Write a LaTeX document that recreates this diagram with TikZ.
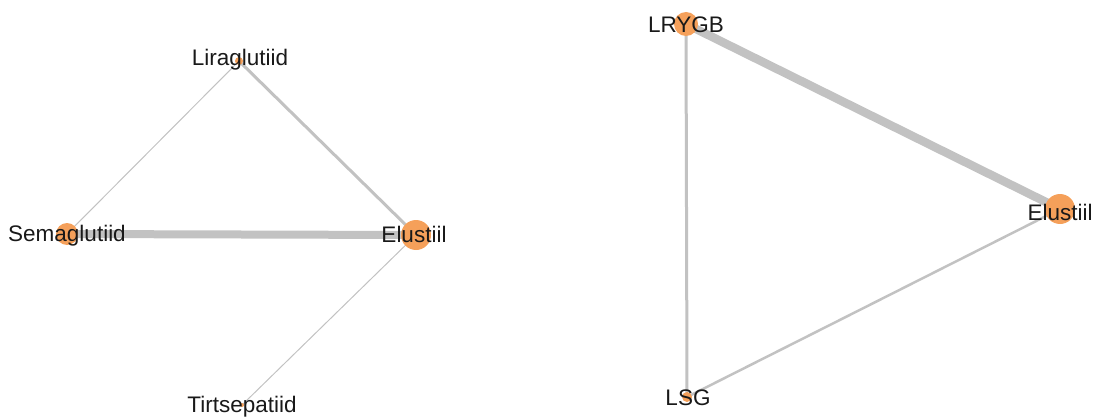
\documentclass[tikz,border=0pt]{standalone}
\usepackage{fontspec}
\setmainfont{Liberation Sans}
\usetikzlibrary{backgrounds}
\definecolor{edgegray}{RGB}{194,194,194}
\definecolor{nodeorange}{RGB}{245,160,90}
\begin{document}
\begin{tikzpicture}[x=1pt,y=-1pt,
  dot/.style={circle,fill=nodeorange,inner sep=0pt,minimum size=#1},
  lbl/.style={anchor=base,inner sep=0pt,text=black!90,font=\fontsize{22.5}{26}\selectfont},
  link/.style={draw=edgegray,line width=#1}]
\useasboundingbox (0,0) rectangle (1097,417);

% left network
\node[dot=8pt]  (lir) at (239,61) {};
\node[dot=22pt] (sem) at (67,234) {};
\node[dot=30pt] (el1) at (416,235) {};
\node[dot=4pt]  (tir) at (242,405) {};

\node[lbl] (tlir) at (240,66) {Liraglutiid};
\node[lbl] (tsem) at (67,241) {Semaglutiid};
\node[lbl] (tel1) at (414,242) {Elustiil};
\node[lbl] (ttir) at (242,412) {Tirtsepatiid};

% right network
\node[dot=24pt] (lry) at (686,24) {};
\node[dot=30pt] (el2) at (1060,209) {};
\node[dot=10pt] (lsg) at (687,397) {};

\node[lbl] (tlry) at (686,33) {LRYGB};
\node[lbl] (tel2) at (1060,220) {Elustiil};
\node[lbl] (tlsg) at (688,405) {LSG};

% edges sit beneath the nodes
\begin{scope}[on background layer]
\draw[link=3pt] (lir.center) -- (el1.center);
\draw[link=1pt] (lir.center) -- (sem.center);
\draw[link=8pt] (sem.center) -- (el1.center);
\draw[link=1pt] (el1.center) -- (tir.center);
\draw[link=8.5pt] (lry.center) -- (el2.center);
\draw[link=3pt] (lry.center) -- (lsg.center);
\draw[link=2.5pt] (lsg.center) -- (el2.center);
\end{scope}
\end{tikzpicture}
\end{document}
